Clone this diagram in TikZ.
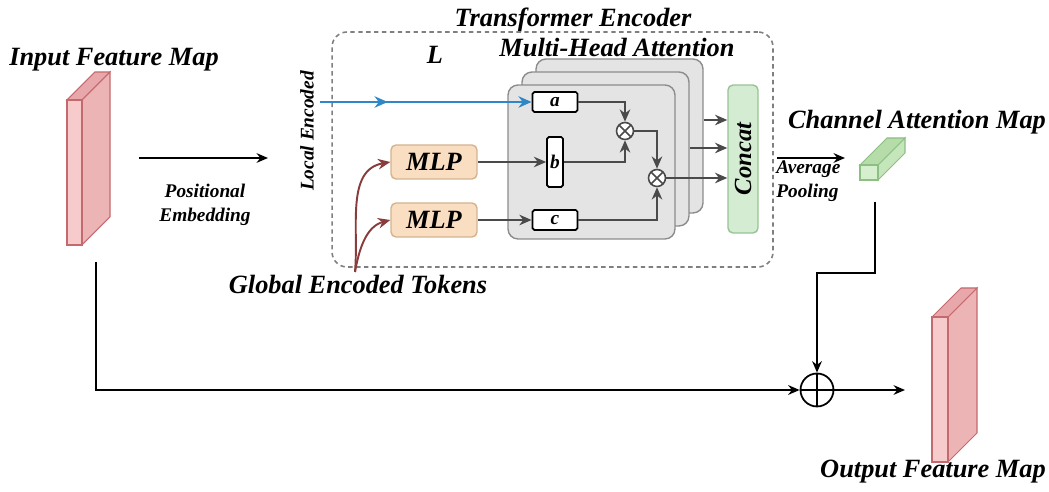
\documentclass[tikz,border=0pt]{standalone}
\usepackage{fontspec}
\setmainfont{Liberation Serif}
\usetikzlibrary{arrows.meta,positioning,decorations.markings}

\definecolor{mapfront}{HTML}{F7CACC}
\definecolor{mapside}{HTML}{EDB4B6}
\definecolor{maptop}{HTML}{E8A7AA}
\definecolor{mapline}{HTML}{C46A6E}
\definecolor{camfront}{HTML}{D6EFCF}
\definecolor{camside}{HTML}{C5E6BB}
\definecolor{camtop}{HTML}{B5DCA9}
\definecolor{camline}{HTML}{8DBE84}
\definecolor{panelfill}{HTML}{E4E4E4}
\definecolor{panelline}{HTML}{8C8C8C}
\definecolor{concatfill}{HTML}{D4EDD2}
\definecolor{concatline}{HTML}{98C396}
\definecolor{mlpfill}{HTML}{F9DEC2}
\definecolor{mlpline}{HTML}{D3B48E}
\definecolor{arrgray}{HTML}{4A4A4A}
\definecolor{leblue}{HTML}{2F87C7}
\definecolor{tokred}{HTML}{8A3B3B}
\definecolor{encgray}{HTML}{7F7F7F}

% 3-d feature slab: top-left of front face, width, height, depth, colour prefix
\newcommand{\featslab}[6]{%
  \filldraw[draw=#6line,fill=#6side,line width=0.6pt] (#1,#2) ++(#3,0) -- ++(#5,-#5) -- ++(0,#4) -- ++(-#5,#5) -- cycle;
  \filldraw[draw=#6line,fill=#6top,line width=0.6pt] (#1,#2) -- ++(#5,-#5) -- ++(#3,0) -- ++(-#5,#5) -- cycle;
  \filldraw[draw=#6line,fill=#6front,line width=0.6pt] (#1,#2) rectangle ++(#3,#4);
}

\begin{document}
\begin{tikzpicture}[x=0.02cm,y=-0.02cm,
  lbl/.style={inner sep=0pt,font=\fontsize{15}{17}\selectfont\bfseries\itshape},
  slbl/.style={inner sep=0pt,font=\fontsize{11}{13.5}\selectfont\bfseries\itshape},
  encbox/.style={draw=encgray,dash pattern=on 2.5pt off 2pt,line width=0.9pt,rounded corners=0.3cm,
    minimum width=8.82cm,minimum height=4.7cm,inner sep=0pt},
  panel/.style={draw=panelline,fill=panelfill,line width=0.8pt,rounded corners=0.2cm,
    minimum width=3.34cm,minimum height=3.08cm,inner sep=0pt},
  abox/.style={draw,fill=white,line width=1pt,rounded corners=1pt,inner sep=0pt,
    font=\fontsize{11}{13}\selectfont\bfseries\itshape},
  mlpbox/.style={draw=mlpline,fill=mlpfill,line width=0.8pt,rounded corners=0.1cm,
    minimum width=1.72cm,minimum height=0.68cm,inner sep=0pt,
    font=\fontsize{15}{17}\selectfont\bfseries\itshape},
  concatbox/.style={draw=concatline,fill=concatfill,line width=0.8pt,rounded corners=0.1cm,
    minimum width=2.96cm,minimum height=0.6cm,inner sep=0pt,rotate=90,
    font=\fontsize{14}{16}\selectfont\bfseries\itshape},
  mult/.style={circle,draw=arrgray,fill=white,line width=0.9pt,minimum size=0.34cm,inner sep=0pt,
    path picture={\draw[arrgray,line width=0.9pt] (path picture bounding box.north west) -- (path picture bounding box.south east)
      (path picture bounding box.north east) -- (path picture bounding box.south west);}},
  plusnode/.style={circle,draw,line width=1pt,minimum size=0.66cm,inner sep=0pt,
    path picture={\draw[line width=1pt] (path picture bounding box.north) -- (path picture bounding box.south)
      (path picture bounding box.west) -- (path picture bounding box.east);}},
  arr/.style={line width=1.1pt,-{Stealth[length=6.5pt,width=5.5pt]}},
  garr/.style={draw=arrgray,line width=1pt,-{Stealth[length=7pt,width=6pt]}},
  bluearr/.style={draw=leblue,line width=1.2pt,-{Stealth[length=7.5pt,width=6.5pt]},
    postaction={decorate},decoration={markings,mark=at position 0.32 with {\arrow{Stealth[length=7.5pt,width=6.5pt]}}}},
  tokarr/.style={draw=tokred,line width=1.1pt,-{Stealth[length=7pt,width=6pt]}}]

  \useasboundingbox (0,0) rectangle (1049,492);

  % feature maps
  \featslab{67}{100}{15}{145}{28}{map}
  \featslab{932}{317}{16}{145}{29}{map}
  \featslab{860}{165}{18}{15}{27}{cam}

  % labels
  \node[lbl] (inlabel) at (114,60) {Input Feature Map};
  \node[lbl] (enclabel) at (573,20) {Transformer Encoder};
  \node[lbl] (mhalabel) at (617,48) {Multi-Head Attention};
  \node[lbl] (llabel) at (435,55) {L};
  \node[lbl] (camlabel) at (917,122) {Channel Attention Map};
  \node[lbl] (gtok) at (358,285) {Global Encoded Tokens};
  \node[lbl] (outlabel) at (933,472) {Output Feature Map};
  \node[slbl,align=center] (pelabel) at (205,205) {Positional\\Embedding};
  \node[slbl,rotate=90] (lelabel) at (307,131) {Local Encoded};
  \node[slbl,align=left,anchor=west] (aplabel) at (776,181) {Average\\Pooling};

  % encoder
  \node[encbox] (enc) at (552.5,149.5) {};
  \node[panel] (p3) at (619.5,136) {};
  \node[panel] (p2) at (605.5,149) {};
  \node[panel] (p1) at (591.5,162) {};

  \node[abox,minimum width=0.9cm,minimum height=0.4cm] (a) at (555,102) {a};
  \node[abox,minimum width=0.32cm,minimum height=1cm] (b) at (555,162) {b};
  \node[abox,minimum width=0.9cm,minimum height=0.4cm] (c) at (555,220) {c};
  \node[mult] (m1) at (625,131) {};
  \node[mult] (m2) at (657,178) {};
  \node[concatbox] (concat) at (743,159) {Concat};
  \node[mlpbox] (mlp1) at (434,162) {MLP};
  \node[mlpbox] (mlp2) at (434,220) {MLP};

  \draw[garr] (a.east) -| (m1.north);
  \draw[garr] (b.east) -| (m1.south);
  \draw[garr] (m1.east) -| (m2.north);
  \draw[garr] (c.east) -| (m2.south);
  \draw[garr] (m2.east) -- (concat.north |- m2);
  \draw[garr] (p3.east |- 0,120) -- (concat.north |- 0,120);
  \draw[garr] (p2.east |- 0,148) -- (concat.north |- 0,148);
  \draw[garr] (mlp1.east) -- (b.west);
  \draw[garr] (mlp2.east) -- (c.west);

  \coordinate (le) at (320,102);
  \draw[bluearr] (le) -- (a.west);

  \coordinate (gt) at (355,272);
  \draw[tokarr] (gt) to[out=85,in=190] (mlp1.west);
  \draw[tokarr] (gt) to[out=80,in=195] (mlp2.west);

  % outer connectors
  \coordinate (pestart) at (139,158);
  \coordinate (peend) at (268,158);
  \draw[arr] (pestart) -- (peend);
  \coordinate (apstart) at (777,158);
  \coordinate (apend) at (845,158);
  \draw[arr] (apstart) -- (apend);

  \node[plusnode] (plus) at (817,390) {};
  \coordinate (inbot) at (96,262);
  \coordinate (camout) at (875,202);
  \coordinate (bend) at (875,273);
  \coordinate (outin) at (905,390);
  \draw[arr] (inbot) |- (plus.west);
  \draw[arr] (camout) -- (bend) -| (plus.north);
  \draw[arr] (plus.east) -- (outin);
\end{tikzpicture}
\end{document}
